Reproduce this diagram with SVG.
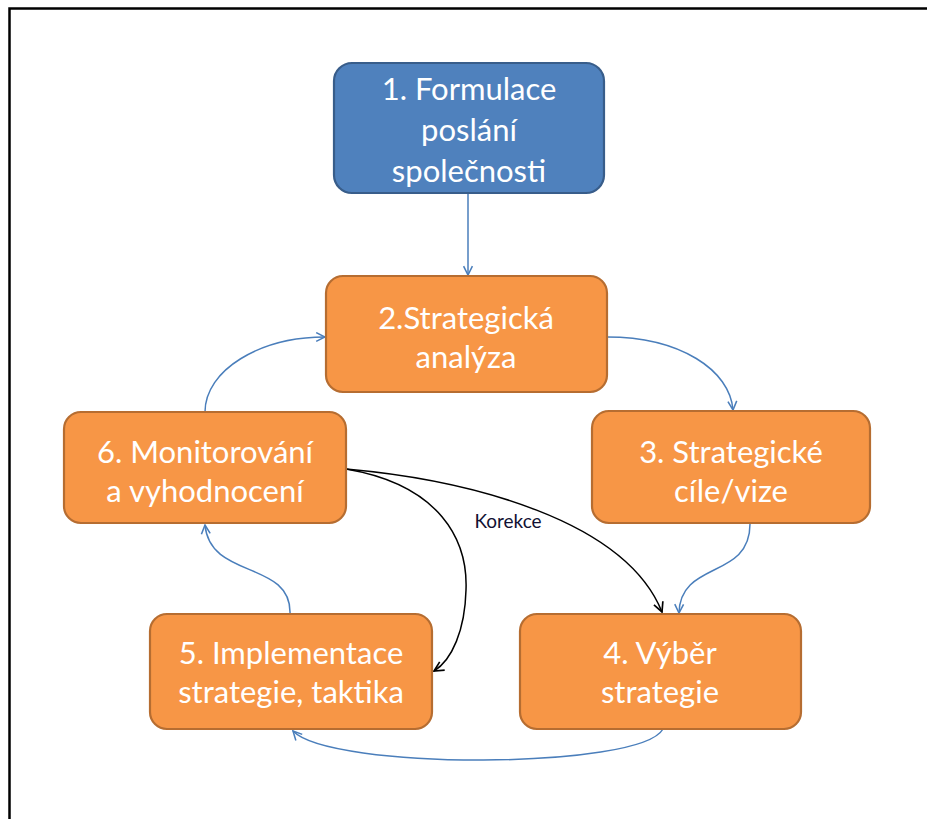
<svg xmlns="http://www.w3.org/2000/svg" width="927" height="819" viewBox="0 0 927 819">
<defs>
<style>
.box{fill:#F79646;stroke:#B66D31;stroke-width:2.2}
.blue{fill:#4F81BD;stroke:#385D8A;stroke-width:2.2}
.t{font-family:Lato,"Open Sans","Liberation Sans",sans-serif;font-size:31px;fill:#ffffff;text-anchor:middle}
.cb{fill:none;stroke:#4A7EBB;stroke-width:1.5;marker-end:url(#ab)}
.ck{fill:none;stroke:#000000;stroke-width:1.5;marker-end:url(#ak)}
.lbl{font-family:Lato,"Open Sans","Liberation Sans",sans-serif;font-size:19px;fill:#111133;text-anchor:middle}
</style>
<marker id="ab" viewBox="0 0 10 10" refX="9" refY="5" markerWidth="11" markerHeight="11" markerUnits="userSpaceOnUse" orient="auto">
<path d="M1,1 L9,5 L1,9" fill="none" stroke="#4A7EBB" stroke-width="1.4"/>
</marker>
<marker id="ak" viewBox="0 0 10 10" refX="9" refY="5" markerWidth="12" markerHeight="12" markerUnits="userSpaceOnUse" orient="auto">
<path d="M1,1 L9,5 L1,9" fill="none" stroke="#000000" stroke-width="1.4"/>
</marker>
</defs>
<rect width="927" height="819" fill="#ffffff"/>
<path d="M9.5,819 L9.5,8.5 L927,8.5" fill="none" stroke="#000000" stroke-width="2.5"/>

<g id="connectors">
<path class="cb" d="M468,194 L468,275"/>
<path class="cb" d="M607,337 C680,337 730,370 733,410"/>
<path class="cb" d="M205,412 C205,370 260,337 325,337"/>
<path class="cb" d="M750,524 C750,580 680,560 679,613"/>
<path class="cb" d="M663,729 C640,770 330,770 293,731"/>
<path class="cb" d="M290,614 C292,560 210,580 205,525"/>
<path class="ck" d="M346,469 C470,480 625,520 662,612"/>
<path class="ck" d="M346,469 C440,485 468,540 466,590 C465,630 452,660 434,671"/>
<text class="lbl" x="508" y="528">Korekce</text>
</g>

<g id="n1">
<rect class="blue" x="334" y="63" width="270" height="130" rx="18"/>
<text class="t" x="469" y="100">1. Formulace</text>
<text class="t" x="469" y="141">poslání</text>
<text class="t" x="469" y="182">společnosti</text>
</g>
<g id="n2">
<rect class="box" x="326" y="276" width="281" height="116" rx="17"/>
<text class="t" x="466" y="329">2.Strategická</text>
<text class="t" x="466" y="368">analýza</text>
</g>
<g id="n3">
<rect class="box" x="592" y="411" width="278" height="112" rx="17"/>
<text class="t" x="731" y="463">3. Strategické</text>
<text class="t" x="731" y="502">cíle/vize</text>
</g>
<g id="n6">
<rect class="box" x="64" y="412" width="282" height="111" rx="17"/>
<text class="t" x="205" y="463">6. Monitorování</text>
<text class="t" x="205" y="502">a vyhodnocení</text>
</g>
<g id="n5">
<rect class="box" x="150" y="614" width="282" height="115" rx="17"/>
<text class="t" x="291" y="664">5. Implementace</text>
<text class="t" x="291" y="703">strategie, taktika</text>
</g>
<g id="n4">
<rect class="box" x="520" y="614" width="281" height="115" rx="17"/>
<text class="t" x="660" y="664">4. Výběr</text>
<text class="t" x="660" y="703">strategie</text>
</g>
</svg>
